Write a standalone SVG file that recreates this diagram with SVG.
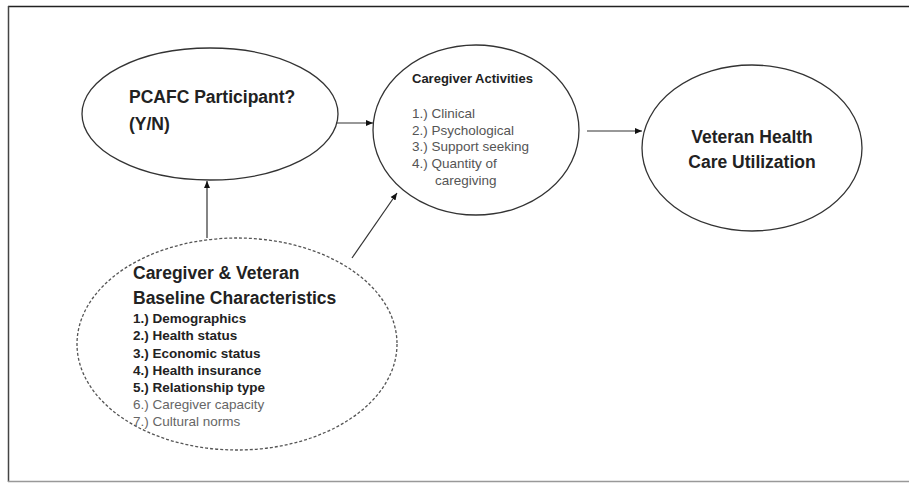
<svg xmlns="http://www.w3.org/2000/svg" width="909" height="483" viewBox="0 0 909 483">
<style>
.node{fill:#fff;stroke:#333;stroke-width:1.3}
.dash{fill:#fff;stroke:#555;stroke-width:1.3;stroke-dasharray:3 2}
.conn{stroke:#333;stroke-width:1.2;fill:none;marker-end:url(#ah)}
text{font-family:"Liberation Sans",Arial,sans-serif}
.big{font-weight:bold;font-size:17.5px;fill:#222}
.hdr{font-weight:bold;font-size:13px;fill:#222}
.li{font-size:13.5px;fill:#555}
.lb{font-size:13.5px;font-weight:bold;fill:#222}
.lg{font-size:13.5px;fill:#666}
</style>
<defs>
<marker id="ah" markerWidth="8" markerHeight="8" refX="7" refY="4" orient="auto" markerUnits="userSpaceOnUse">
<path d="M0,1 L7,4 L0,7 Z" fill="#111"/>
</marker>
</defs>
<rect width="909" height="483" fill="#fff"/>
<g id="frame">
<line x1="8" y1="6.5" x2="909" y2="6.5" stroke="#222" stroke-width="1.5"/>
<line x1="8.5" y1="6" x2="8.5" y2="482" stroke="#444" stroke-width="1.5"/>
<line x1="8" y1="481.5" x2="909" y2="481.5" stroke="#999" stroke-width="1.5"/>
</g>
<g id="n-pcafc">
<ellipse class="node" cx="210" cy="114" rx="128" ry="66"/>
<text class="big" x="129" y="103" font-size="17">PCAFC Participant?</text>
<text class="big" x="129" y="130">(Y/N)</text>
</g>
<g id="n-activities">
<ellipse class="node" cx="476" cy="130" rx="103" ry="85"/>
<text class="hdr" x="412" y="83">Caregiver Activities</text>
<text class="li" x="412" y="118">1.) Clinical</text>
<text class="li" x="412" y="134.5">2.) Psychological</text>
<text class="li" x="412" y="151">3.) Support seeking</text>
<text class="li" x="412" y="167.5">4.) Quantity of</text>
<text class="li" x="435" y="185">caregiving</text>
</g>
<g id="n-utilization">
<ellipse class="node" cx="752" cy="148" rx="110" ry="83"/>
<text class="big" x="752" y="143" text-anchor="middle" font-size="18">Veteran Health</text>
<text class="big" x="752" y="168" text-anchor="middle" font-size="18">Care Utilization</text>
</g>
<g id="n-baseline">
<ellipse class="dash" cx="237" cy="344" rx="160" ry="106"/>
<text class="big" x="133" y="279">Caregiver &amp; Veteran</text>
<text class="big" x="133" y="304">Baseline Characteristics</text>
<text class="lb" x="133" y="323">1.) Demographics</text>
<text class="lb" x="133" y="340">2.) Health status</text>
<text class="lb" x="133" y="357.5">3.) Economic status</text>
<text class="lb" x="133" y="375">4.) Health insurance</text>
<text class="lb" x="133" y="392">5.) Relationship type</text>
<text class="lg" x="133" y="409">6.) Caregiver capacity</text>
<text class="lg" x="133" y="426">7.) Cultural norms</text>
</g>
<g id="connectors">
<line class="conn" x1="336" y1="123" x2="373" y2="123"/>
<line class="conn" x1="587" y1="131" x2="642" y2="131"/>
<line class="conn" x1="207" y1="238" x2="207" y2="181"/>
<line class="conn" x1="352" y1="258" x2="397" y2="193"/>
</g>
</svg>
